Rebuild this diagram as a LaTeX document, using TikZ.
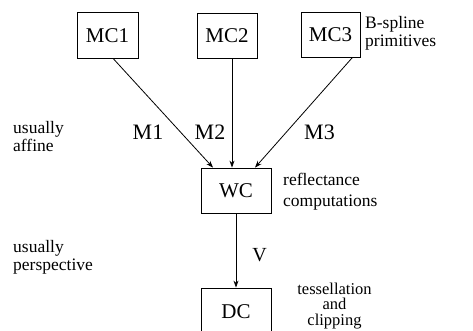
\documentclass[tikz,border=0pt]{standalone}
\usepackage{fontspec}
\setmainfont{Liberation Serif}
\newfontfamily\tms{Liberation Serif}
\usetikzlibrary{arrows.meta}
\begin{document}
\begin{tikzpicture}[x=1pt,y=-1pt,
  box/.style={draw, line width=0.8pt, inner sep=0pt, font=\tms\fontsize{21}{21}\selectfont},
  lbl/.style={font=\tms\fontsize{22}{22}\selectfont, inner sep=0pt},
  side/.style={font=\tms\fontsize{17.5}{17.5}\selectfont, inner sep=0pt, align=left, anchor=base west},
  arr/.style={-{Stealth[length=7pt,width=5pt]}, line width=0.8pt}]
\useasboundingbox (0,0) rectangle (473,331);
\clip (0,0) rectangle (473,331);
\node[box, minimum width=61pt, minimum height=46pt] (mc1) at (107.5,35.5) {MC1};
\node[box, minimum width=60pt, minimum height=45pt] (mc2) at (227,35.5) {MC2};
\node[box, minimum width=59pt, minimum height=45pt] (mc3) at (330.5,34.5) {MC3};
\node[box, minimum width=70pt, minimum height=45pt] (wc) at (236,190.5) {WC};
\node[box, minimum width=70pt, minimum height=47pt] (dc) at (236,311.5) {DC};
\draw[arr] ([xshift=6pt]mc1.south) -- ([xshift=-23pt]wc.north);
\draw[arr] ([xshift=5pt]mc2.south) -- ([xshift=-4pt]wc.north);
\draw[arr] ([xshift=22pt]mc3.south) -- ([xshift=19pt]wc.north);
\draw[arr] (wc) -- (dc);
\node[lbl] (m1) at (148,132) {M1};
\node[lbl] (m2) at (210,132) {M2};
\node[lbl] (m3) at (319.5,132) {M3};
\node[lbl, font=\tms\fontsize{20}{20}\selectfont] (v) at (259.5,255) {V};
\node[side] (bs) at (365,46.5) {B-spline\\primitives};
\node[side] (ua) at (13,151.5) {usually\\affine};
\node[side, font=\tms\fontsize{17.5}{21.7}\selectfont] (rc) at (283,206.7) {reflectance\\computations};
\node[side] (up) at (13,270) {usually\\perspective};
\node[side, font=\tms\fontsize{16.5}{15.5}\selectfont, align=center, anchor=base] (tc) at (334.5,325) {tessellation\\and\\clipping};
\end{tikzpicture}
\end{document}
